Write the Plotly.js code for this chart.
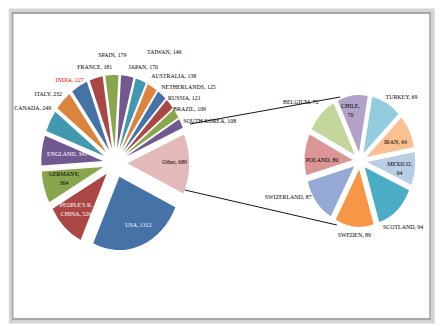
<!DOCTYPE html>
<html>
<head>
<meta charset="utf-8">
<script src="https://cdn.plot.ly/plotly-3.0.1.min.js"></script>
<style>
  html, body { margin: 0; padding: 0; background: #ffffff; overflow: hidden; }
  #wrap { width: 445px; height: 326px; overflow: hidden; }
  /* the chart is laid out wider and condensed horizontally */
  #chart { width: 530px; height: 326px; transform: scaleX(0.84); transform-origin: 0 0; }
</style>
</head>
<body>
<div id="wrap"><div id="chart"></div></div>
<script>
// Main pie: countries, with the remainder gathered into "Other"
const mainLabels = ["USA", "PEOPLE'S R. CHINA", "GERMANY", "ENGLAND", "CANADA", "ITALY", "INDIA",
  "FRANCE", "SPAIN", "JAPAN", "TAIWAN", "AUSTRALIA", "NETHERLANDS", "RUSSIA", "BRAZIL",
  "SOUTH KOREA", "Other"];
const mainValues = [1312, 526, 364, 341, 249, 232, 227, 181, 179, 170, 146, 138, 125, 121, 109, 108, 689];

// Secondary pie: the countries that make up "Other"
const otherLabels = ["SCOTLAND", "SWEDEN", "SWIZERLAND", "POLAND", "BELGIUM", "CHILE", "TURKEY", "IRAN", "MEXICO"];
const otherValues = [94, 89, 87, 80, 72, 70, 69, 64, 64];

const palette = ["#4572A7", "#AA4643", "#89A54E", "#71588F", "#4198AF", "#DB843D"];
const mainColors = mainLabels.map((_, i) => i === mainLabels.length - 1 ? "#E4B9BA" : palette[i % palette.length]);
const otherColors = ["#4BACC6", "#F79646", "#95A9D6", "#D99694", "#C3D69B", "#B3A2C7", "#93CDDD", "#FAC090", "#B9CDE5"];

const W = 530, H = 326;
const px = x => x / W, py = y => 1 - y / H;
const fam = "Liberation Serif, Times New Roman, serif";

// Data label placement (layout pixels), line-break style and text colour
const labelPlacement = {
  "USA":               { x: 165, y: 225, color: "#ffffff" },
  "PEOPLE'S R. CHINA": { x: 90,  y: 210, color: "#ffffff", wrap: "PEOPLE'S R.<br>CHINA" },
  "GERMANY":           { x: 76,  y: 178, br: true },
  "ENGLAND":           { x: 80,  y: 154, color: "#ffffff" },
  "CANADA":            { x: 39,  y: 108 },
  "ITALY":             { x: 57,  y: 94 },
  "INDIA":             { x: 83,  y: 80, color: "#ff0000" },
  "FRANCE":            { x: 113, y: 67 },
  "SPAIN":             { x: 134, y: 55 },
  "JAPAN":             { x: 171, y: 67 },
  "TAIWAN":            { x: 196, y: 52 },
  "AUSTRALIA":         { x: 207, y: 76 },
  "NETHERLANDS":       { x: 224, y: 87 },
  "RUSSIA":            { x: 219, y: 98 },
  "BRAZIL":            { x: 226, y: 109 },
  "SOUTH KOREA":       { x: 250, y: 121 },
  "Other":             { x: 208, y: 162 },
  "SCOTLAND":          { x: 480, y: 227 },
  "SWEDEN":            { x: 422, y: 235 },
  "SWIZERLAND":        { x: 343, y: 197 },
  "POLAND":            { x: 383, y: 160 },
  "BELGIUM":           { x: 358, y: 102 },
  "CHILE":             { x: 417, y: 110, br: true },
  "TURKEY":            { x: 478, y: 97 },
  "IRAN":              { x: 471, y: 142 },
  "MEXICO":            { x: 476, y: 168, br: true }
};

const traces = [
  {
    type: "pie", labels: mainLabels, values: mainValues, sort: false,
    direction: "clockwise", rotation: 114.5,
    marker: { colors: mainColors, line: { width: 0 } },
    pull: 0.2, textinfo: "none",
    domain: { x: [0.0925, 0.4245], y: [0.230, 0.770] },
    showlegend: false, hoverinfo: "label+value"
  },
  {
    type: "pie", labels: otherLabels, values: otherValues, sort: false,
    direction: "clockwise", rotation: 113.5,
    marker: { colors: otherColors, line: { width: 0 } },
    pull: 0.15, textinfo: "none",
    domain: { x: [0.684, 0.933], y: [0.304, 0.709] },
    showlegend: false, hoverinfo: "label+value"
  }
];

function labelAnnotations(labels, values) {
  return labels.filter(l => labelPlacement[l]).map(l => {
    const p = labelPlacement[l];
    const v = values[labels.indexOf(l)];
    const name = p.wrap || l;
    return {
      xref: "paper", yref: "paper", x: px(p.x), y: py(p.y), showarrow: false,
      text: name + "," + (p.br ? "<br>" : " ") + v,
      xanchor: "center", yanchor: "middle", align: "center",
      font: { family: fam, size: 7, color: p.color || "#000000" }
    };
  });
}

const layout = {
  width: W, height: H,
  margin: { l: 0, r: 0, t: 0, b: 0 },
  paper_bgcolor: "#ffffff",
  font: { family: fam, size: 7, color: "#000" },
  showlegend: false,
  annotations: labelAnnotations(mainLabels, mainValues).concat(labelAnnotations(otherLabels, otherValues)),
  shapes: [
    // chart frame with a soft grey edge
    { type: "rect", xref: "paper", yref: "paper", x0: px(13), x1: px(515), y0: py(321), y1: py(11),
      line: { color: "#d4d4d4", width: 5 }, layer: "below" },
    { type: "rect", xref: "paper", yref: "paper", x0: px(15), x1: px(512), y0: py(319), y1: py(13),
      line: { color: "#a6a6a6", width: 2 }, layer: "below" },
    // connectors from "Other" to the secondary pie
    { type: "line", xref: "paper", yref: "paper", x0: px(226), y0: py(124), x1: px(405), y1: py(97),
      line: { color: "#000", width: 1 } },
    { type: "line", xref: "paper", yref: "paper", x0: px(220), y0: py(190), x1: px(401), y1: py(225),
      line: { color: "#000", width: 1 } }
  ]
};

Plotly.newPlot("chart", traces, layout, { displayModeBar: false, staticPlot: true });
</script>
</body>
</html>
